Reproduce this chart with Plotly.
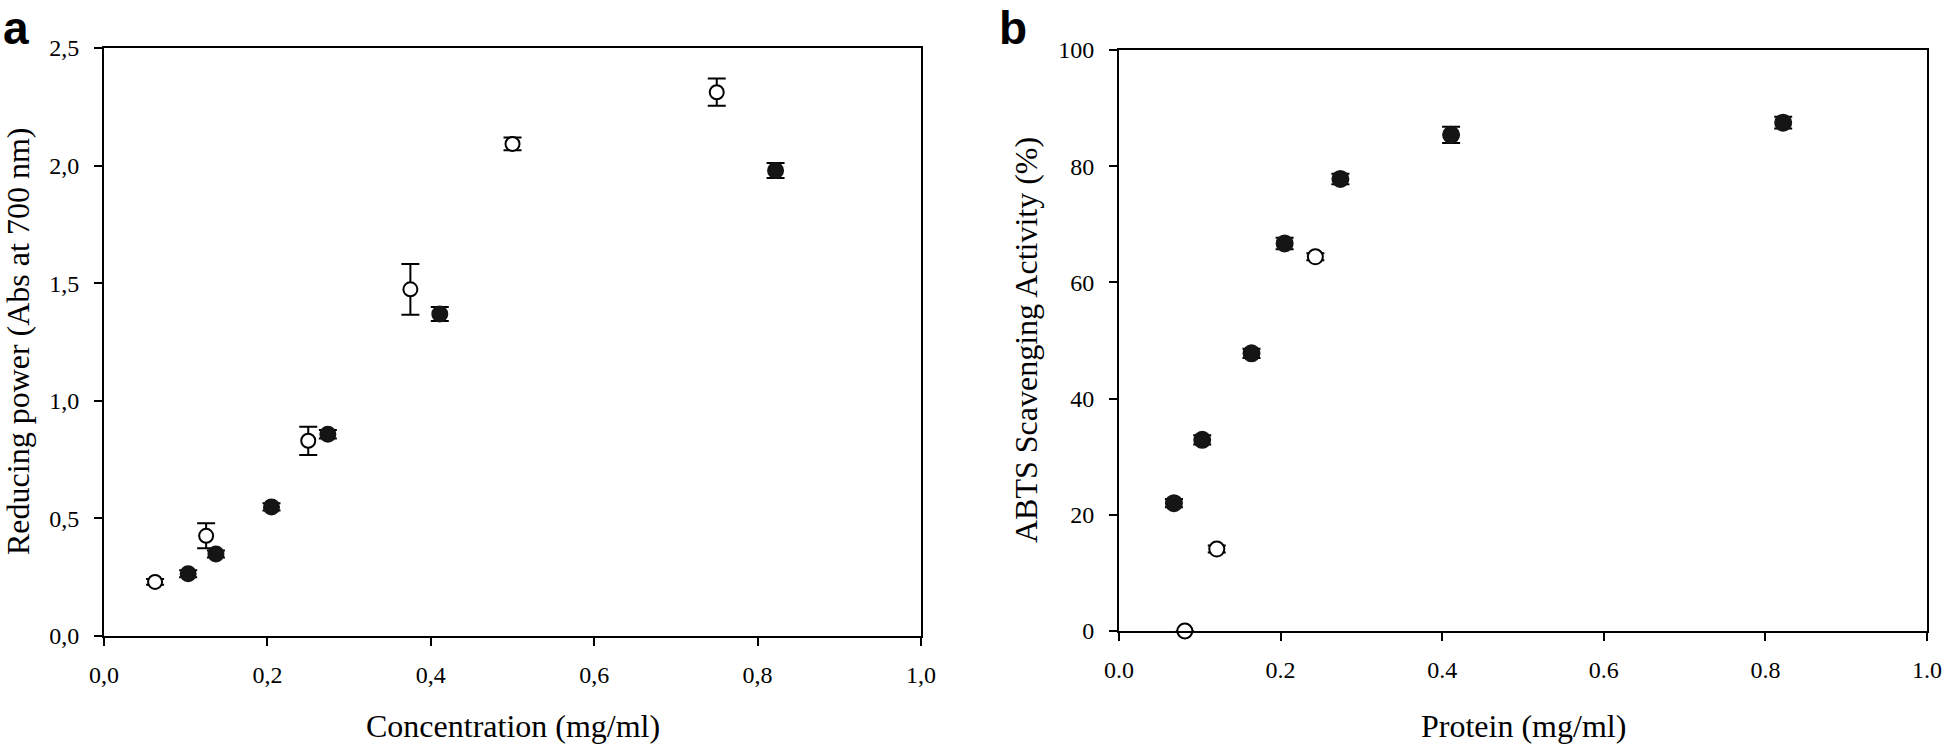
import plotly.graph_objects as go

W, H = 1946, 744

# ---- Panel a: Reducing power ----
a_open_x = [0.0625, 0.125, 0.25, 0.375, 0.5, 0.75]
a_open_y = [0.23, 0.426, 0.83, 1.474, 2.092, 2.312]
a_open_err = [0.012, 0.053, 0.06, 0.108, 0.027, 0.058]

a_fill_x = [0.103, 0.137, 0.205, 0.274, 0.411, 0.822]
a_fill_y = [0.265, 0.349, 0.549, 0.858, 1.369, 1.979]
a_fill_err = [0.015, 0.015, 0.015, 0.018, 0.03, 0.032]

a_xticks = [0.0, 0.2, 0.4, 0.6, 0.8, 1.0]
a_xtext = ["0,0", "0,2", "0,4", "0,6", "0,8", "1,0"]
a_yticks = [0.0, 0.5, 1.0, 1.5, 2.0, 2.5]
a_ytext = ["0,0", "0,5", "1,0", "1,5", "2,0", "2,5"]

# ---- Panel b: ABTS scavenging ----
b_fill_x = [0.068, 0.103, 0.164, 0.205, 0.274, 0.411, 0.822]
b_fill_y = [22.0, 32.9, 47.8, 66.7, 77.8, 85.4, 87.5]
b_fill_err = [0.7, 0.8, 0.8, 1.0, 0.9, 1.4, 1.0]

b_open_x = [0.0815, 0.121, 0.243]
b_open_y = [0.0, 14.1, 64.4]
b_open_err = [0.0, 0.6, 0.6]

b_xticks = [0.0, 0.2, 0.4, 0.6, 0.8, 1.0]
b_xtext = ["0.0", "0.2", "0.4", "0.6", "0.8", "1.0"]
b_yticks = [0, 20, 40, 60, 80, 100]
b_ytext = ["0", "20", "40", "60", "80", "100"]

SERIF = "Liberation Serif, Times New Roman, serif"
FILL = "#151515"


def px_x(p):
    return p / W


def px_y(p):
    return 1 - p / H


fig = go.Figure()


def add_series(x, y, err, filled, xa, ya, size):
    fig.add_trace(go.Scatter(
        x=x, y=y, mode="markers", xaxis=xa, yaxis=ya,
        cliponaxis=False, showlegend=False, hoverinfo="skip",
        error_y=dict(type="data", array=err, visible=True,
                     color="black", thickness=2, width=9),
        marker=dict(
            size=size,
            color=FILL if filled else "white",
            line=dict(color="black" if not filled else FILL, width=2),
        ),
    ))


add_series(a_open_x, a_open_y, a_open_err, False, "x", "y", 14)
add_series(a_fill_x, a_fill_y, a_fill_err, True, "x", "y", 15)
add_series(b_open_x, b_open_y, b_open_err, False, "x2", "y2", 15)
add_series(b_fill_x, b_fill_y, b_fill_err, True, "x2", "y2", 16)

axis_common = dict(
    showline=True, linecolor="black", linewidth=2, mirror=True,
    ticks="outside", ticklen=8, tickwidth=2, tickcolor="black",
    showgrid=False, zeroline=False, automargin=False,
    tickfont=dict(family=SERIF, size=24, color="black"),
)

fig.update_layout(
    width=W, height=H,
    margin=dict(l=0, r=0, t=0, b=0, autoexpand=False),
    paper_bgcolor="white", plot_bgcolor="white",
    xaxis=dict(domain=[px_x(104), px_x(921)], range=[0, 1], anchor="y",
               tickvals=a_xticks, ticktext=a_xtext, ticklabelstandoff=8,
               **axis_common),
    yaxis=dict(domain=[px_y(636), px_y(48)], range=[0, 2.5], anchor="x",
               tickvals=a_yticks, ticktext=a_ytext, ticklabelstandoff=10,
               **axis_common),
    xaxis2=dict(domain=[px_x(1119), px_x(1927)], range=[0, 1], anchor="y2",
                tickvals=b_xticks, ticktext=b_xtext, ticklabelstandoff=8,
                **axis_common),
    yaxis2=dict(domain=[px_y(631), px_y(50)], range=[0, 100], anchor="x2",
                tickvals=b_yticks, ticktext=b_ytext, ticklabelstandoff=10,
                **axis_common),
)

title_font = dict(family=SERIF, size=32, color="black")
label_font = dict(family="Liberation Sans, Arial, sans-serif", size=46, color="black")

annotations = [
    dict(text="Concentration (mg/ml)", x=px_x(512.5), y=px_y(726),
         xanchor="center", yanchor="middle", font=title_font),
    dict(text="Reducing power (Abs at 700 nm)", x=px_x(18), y=px_y(342),
         xanchor="center", yanchor="middle", textangle=-90, font=title_font),
    dict(text="Protein (mg/ml)", x=px_x(1523), y=px_y(726),
         xanchor="center", yanchor="middle", font=title_font),
    dict(text="ABTS Scavenging Activity (%)", x=px_x(1026), y=px_y(340),
         xanchor="center", yanchor="middle", textangle=-90, font=title_font),
    dict(text="<b>a</b>", x=px_x(1), y=1,
         xanchor="left", yanchor="top", font=label_font),
    dict(text="<b>b</b>", x=px_x(997), y=1,
         xanchor="left", yanchor="top", font=label_font),
]
for a in annotations:
    a.update(xref="paper", yref="paper", showarrow=False)
fig.update_layout(annotations=annotations)

fig.write_html(
    "out.html",
    config={"displayModeBar": False, "staticPlot": True},
    post_script="document.body.style.margin='0';document.body.style.overflow='hidden';",
)
